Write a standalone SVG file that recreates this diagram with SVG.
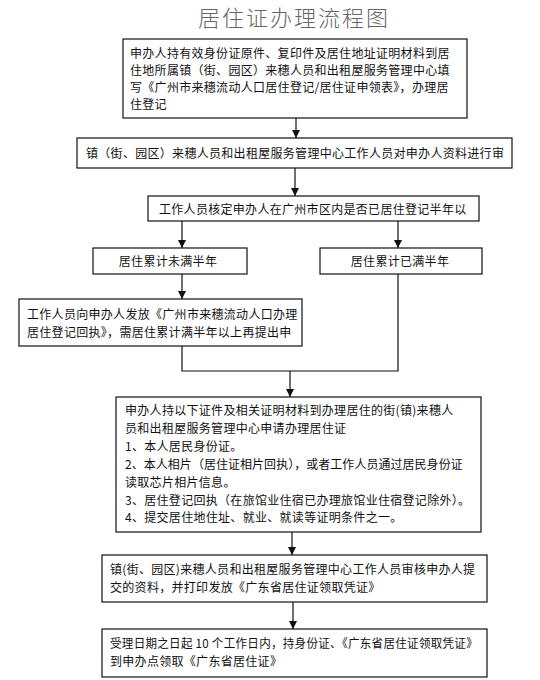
<svg xmlns="http://www.w3.org/2000/svg" width="540" height="680" viewBox="0 0 540 680">
<defs>
<style>
.box{fill:#fff;stroke:#111;stroke-width:1.2}
.t{font-family:"Noto Sans CJK SC","Liberation Sans",sans-serif;font-size:12px;letter-spacing:0.3px;fill:#111}
.c{text-anchor:middle}
.ln{fill:none;stroke:#111;stroke-width:1.2}
.title{font-family:"Noto Sans CJK SC","Liberation Serif",serif;font-size:22px;font-weight:300;fill:#666;text-anchor:middle;letter-spacing:2px}
</style>
<marker id="ad" markerUnits="userSpaceOnUse" markerWidth="8" markerHeight="8" viewBox="0 0 8 8" refX="4" refY="8">
<path d="M0,0 L8,0 L4,8 Z" fill="#111"/>
</marker>
</defs>
<rect width="540" height="680" fill="#fff"/>
<text class="title" x="294" y="26">居住证办理流程图</text>

<g id="connectors">
<line class="ln" x1="296" y1="118" x2="296" y2="138" marker-end="url(#ad)"/>
<line class="ln" x1="295" y1="168" x2="295" y2="196" marker-end="url(#ad)"/>
<line class="ln" x1="182" y1="221" x2="182" y2="248" marker-end="url(#ad)"/>
<line class="ln" x1="398" y1="221" x2="398" y2="248" marker-end="url(#ad)"/>
<line class="ln" x1="182" y1="274" x2="182" y2="299" marker-end="url(#ad)"/>
<polyline class="ln" points="182,346 182,371 398,371 398,274"/>
<line class="ln" x1="290" y1="371" x2="290" y2="397" marker-end="url(#ad)"/>
<line class="ln" x1="292" y1="532" x2="292" y2="555" marker-end="url(#ad)"/>
<line class="ln" x1="293" y1="602" x2="293" y2="629" marker-end="url(#ad)"/>
</g>

<g id="n1">
<rect class="box" x="123" y="39" width="344" height="79"/>
<text class="t" x="130" y="58">申办人持有效身份证原件、复印件及居住地址证明材料到居</text>
<text class="t" x="130" y="75">住地所属镇（街、园区）来穗人员和出租屋服务管理中心填</text>
<text class="t" x="130" y="92">写《广州市来穗流动人口居住登记/居住证申领表》，办理居</text>
<text class="t" x="130" y="109">住登记</text>
</g>

<g id="n2">
<rect class="box" x="77" y="138" width="435" height="30"/>
<text class="t" x="86" y="158">镇（街、园区）来穗人员和出租屋服务管理中心工作人员对申办人资料进行审</text>
</g>

<g id="n3">
<rect class="box" x="148" y="196" width="331" height="25"/>
<text class="t" x="159" y="214">工作人员核定申办人在广州市区内是否已居住登记半年以</text>
</g>

<g id="n4">
<rect class="box" x="93" y="248" width="154" height="26"/>
<text class="t c" x="168" y="266">居住累计未满半年</text>
</g>

<g id="n5">
<rect class="box" x="320" y="248" width="162" height="26"/>
<text class="t c" x="400" y="266">居住累计已满半年</text>
</g>

<g id="n6">
<rect class="box" x="19" y="299" width="283" height="47"/>
<text class="t" x="27" y="319">工作人员向申办人发放《广州市来穗流动人口办理</text>
<text class="t" x="27" y="337">居住登记回执》，需居住累计满半年以上再提出申</text>
</g>

<g id="n7">
<rect class="box" x="116" y="397" width="365" height="135"/>
<text class="t" x="125" y="415">申办人持以下证件及相关证明材料到办理居住的街(镇)来穗人</text>
<text class="t" x="125" y="433">员和出租屋服务管理中心申请办理居住证</text>
<text class="t" x="125" y="451">1、本人居民身份证。</text>
<text class="t" x="125" y="469" textLength="338" lengthAdjust="spacing">2、本人相片（居住证相片回执），或者工作人员通过居民身份证</text>
<text class="t" x="125" y="487">读取芯片相片信息。</text>
<text class="t" x="125" y="505">3、居住登记回执（在旅馆业住宿已办理旅馆业住宿登记除外）。</text>
<text class="t" x="125" y="522">4、提交居住地住址、就业、就读等证明条件之一。</text>
</g>

<g id="n8">
<rect class="box" x="102" y="555" width="385" height="47"/>
<text class="t" x="110" y="574">镇(街、园区)来穗人员和出租屋服务管理中心工作人员审核申办人提</text>
<text class="t" x="110" y="592">交的资料，并打印发放《广东省居住证领取凭证》</text>
</g>

<g id="n9">
<rect class="box" x="102" y="629" width="385" height="48"/>
<text class="t" x="110" y="648" textLength="368" lengthAdjust="spacingAndGlyphs">受理日期之日起 10 个工作日内，持身份证、《广东省居住证领取凭证》</text>
<text class="t" x="110" y="666">到申办点领取《广东省居住证》</text>
</g>
</svg>
